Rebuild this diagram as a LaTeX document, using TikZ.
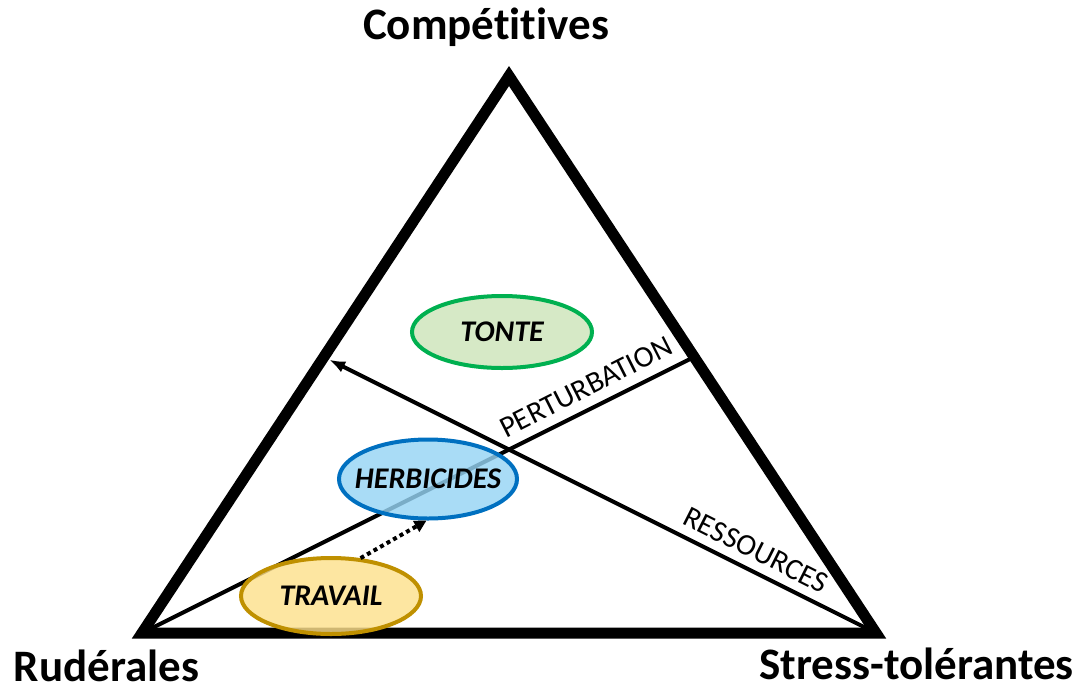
\documentclass[tikz,border=0pt]{standalone}
\usepackage{fontspec}
\setmainfont{Carlito}[Ligatures=CommonOff]
\usetikzlibrary{arrows.meta,calc,shapes.geometric}
\definecolor{tontefill}{RGB}{205,228,186}
\definecolor{tonteline}{RGB}{0,176,80}
\definecolor{herbfill}{RGB}{150,212,244}
\definecolor{herbline}{RGB}{0,112,192}
\definecolor{travfill}{RGB}{253,224,140}
\definecolor{travline}{RGB}{191,144,0}
\begin{document}
\begin{tikzpicture}[x=1pt,y=-1pt,
  corner/.style={font=\fontsize{45}{50}\selectfont\bfseries, inner sep=0pt},
  lbl/.style={font=\fontsize{30}{32}\selectfont, inner sep=0pt},
  blob/.style={ellipse, line width=4pt, inner sep=0pt, fill opacity=0.82},
  blobtext/.style={inner sep=0pt, font=\fontsize{30}{32}\selectfont\bfseries\itshape},
  thin/.style={line width=4pt}
]
\useasboundingbox (0,0) rectangle (1081,686);
\coordinate (A) at (509,76);
\coordinate (BL) at (142,633);
\coordinate (BR) at (876,633);
\coordinate (P) at ($(A)!0.5045!(BR)$);
\coordinate (Q) at ($(A)!0.5045!(BL)$);
% lines
\draw[thin] (BL) -- (P);
\draw[thin, -{Latex[length=16pt,width=12pt]}, shorten >=6pt] (BR) -- (Q);
% triangle
\draw[line width=11pt, line join=miter] (A) -- (BL) -- (BR) -- cycle;
% ellipses
\node[blob, draw=tonteline, fill=tontefill, minimum width=180pt, minimum height=72pt] (tonte) at (502,332) {};
\node[blob, draw=herbline, fill=herbfill, minimum width=178pt, minimum height=79pt] (herb) at (428,479) {};
\node[blob, draw=travline, fill=travfill, minimum width=180pt, minimum height=76pt] (trav) at (331,596) {};
\node[blobtext] (tontet) at (tonte.center) {TONTE};
\node[blobtext] (herbt) at (herb.center) {HERBICIDES};
\node[blobtext] (travt) at (trav.center) {TRAVAIL};
% dotted arrow
\draw[line width=4pt, dash pattern=on 4pt off 3.5pt, -{Triangle[length=12pt,width=12pt]}] (trav.52) -- (herb.268);
% labels on lines
\node[lbl, rotate=26.8] (pert) at (586,387) {PERTURBATION};
\node[lbl, rotate=-26.7] (ress) at (756,550) {RESSOURCES};
% corner labels
\node[corner, anchor=base] (comp) at (486,39) {Compétitives};
\node[corner, anchor=base] (rud) at (106.5,681) {Rudérales};
\node[corner, anchor=base] (stress) at (916.5,679) {Stress-tolérantes};
\end{tikzpicture}
\end{document}
